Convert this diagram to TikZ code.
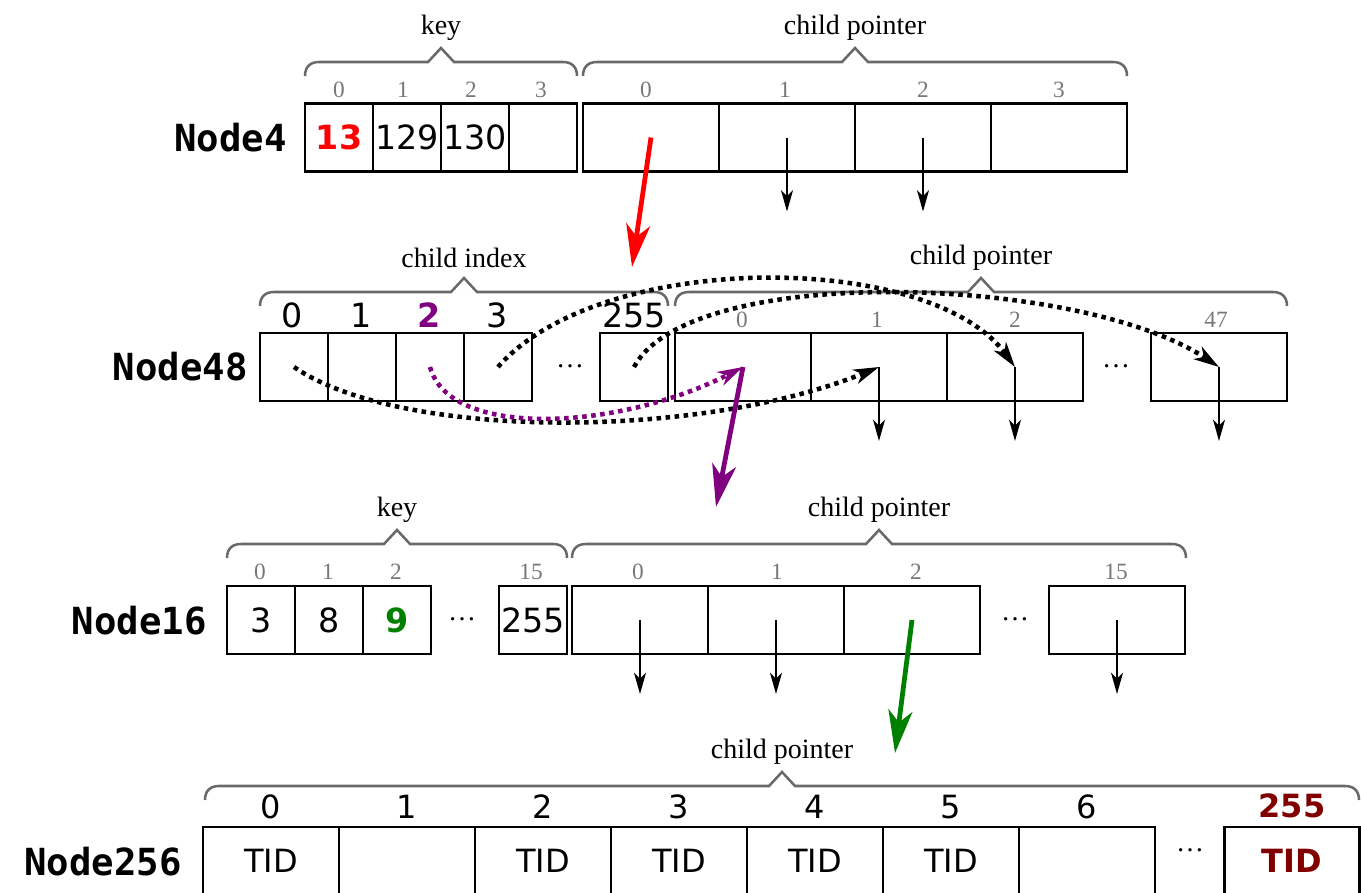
\documentclass[tikz,border=0pt]{standalone}
\usepackage{fontspec}
\usetikzlibrary{arrows.meta}
\newfontfamily\dvsans{DejaVu Sans}
\newfontfamily\dvmono{DejaVu Sans Mono}
\newfontfamily\libserif{Liberation Serif}
\newcommand\cellfont{\dvsans\fontsize{25}{30}\selectfont}
\newcommand\tidfont{\dvsans\fontsize{24}{28}\selectfont}
\newcommand\namefont{\dvmono\bfseries\fontsize{28}{32}\selectfont}
\newcommand\idxfont{\libserif\fontsize{17.5}{20}\selectfont}
\newcommand\labelfont{\libserif\fontsize{21}{24}\selectfont}
\definecolor{bracegray}{RGB}{105,105,105}
\definecolor{idxgray}{RGB}{120,120,120}
\definecolor{hitred}{RGB}{255,0,0}
\definecolor{hitpurple}{RGB}{128,0,128}
\definecolor{hitgreen}{RGB}{0,128,0}
\definecolor{hitdark}{RGB}{128,0,0}
\tikzset{
  cell/.style={draw, line width=1.9pt, minimum height=51pt, inner sep=0pt, font=\cellfont},
  kcell/.style={cell, minimum width=51pt},
  pcell/.style={cell, minimum width=102pt},
  idx/.style={font=\idxfont, text=idxgray, inner sep=0pt},
  bigidx/.style={font=\cellfont, inner sep=0pt},
  nodename/.style={font=\namefont, anchor=east, inner sep=0pt},
  gap/.style={font=\labelfont, inner sep=0pt},
  ptr/.style={line width=1.5pt, -{Stealth[length=16pt,width=9pt,inset=4.5pt]}},
  jump/.style={line width=3.6pt, -{Stealth[length=32pt,width=18pt,inset=9pt]}},
  link/.style={line width=3.4pt, dash pattern=on 3.4pt off 3.4pt, -{Stealth[length=19pt,width=11pt,inset=5.5pt]}},
  bracepath/.style={draw=bracegray, line width=1.9pt},
  bracelabel/.style={font=\labelfont, inner sep=0pt},
}
% field brace: node name, left x, right x, y of the flat part, label
\newcommand\fieldbrace[5]{%
  \draw[bracepath] (#2,#4+14) .. controls (#2,#4+5) and (#2+5,#4) .. (#2+14,#4)
    -- ({(#2+#3)/2-13},#4) -- ({(#2+#3)/2},#4-14) -- ({(#2+#3)/2+13},#4)
    -- (#3-14,#4) .. controls (#3-5,#4) and (#3,#4+5) .. (#3,#4+14);
  \node[bracelabel] (#1) at ({(#2+#3)/2},#4-34) {#5};
}
\begin{document}
\begin{tikzpicture}[x=0.75pt, y=-0.75pt]
\useasboundingbox (0,0) rectangle (1361,893);

% ---------------- Node4 ----------------
\node[nodename] (n4name) at (287,138) {Node4};
\node[kcell] (n4k0) at (339,137.5) {\textcolor{hitred}{\bfseries 13}};
\node[kcell] (n4k1) at (407,137.5) {129};
\node[kcell] (n4k2) at (475,137.5) {130};
\node[kcell] (n4k3) at (543,137.5) {};
\node[pcell] (n4c0) at (651,137.5) {};
\node[pcell] (n4c1) at (787,137.5) {};
\node[pcell] (n4c2) at (923,137.5) {};
\node[pcell] (n4c3) at (1059,137.5) {};
\foreach \i/\x in {0/339,1/403,2/471,3/541} \node[idx] (n4ki\i) at (\x,90) {\i};
\foreach \i/\x in {0/646,1/785,2/923,3/1059} \node[idx] (n4ci\i) at (\x,90) {\i};
\fieldbrace{n4key}{305}{577}{62}{key}
\fieldbrace{n4ptr}{583}{1127}{62}{child pointer}
\path (n4c1.center) ++(0,74) coordinate (n4c1t);
\path (n4c2.center) ++(0,74) coordinate (n4c2t);
\draw[ptr] (n4c1.center) -- (n4c1t);
\draw[ptr] (n4c2.center) -- (n4c2t);

% ---------------- Node48 ----------------
\node[nodename] (n48name) at (248,367) {Node48};
\node[kcell] (n48i0) at (294,367) {};
\node[kcell] (n48i1) at (362,367) {};
\node[kcell] (n48i2) at (430,367) {};
\node[kcell] (n48i3) at (498,367) {};
\node[gap] (n48g1) at (570,366) {…};
\node[kcell] (n48i255) at (634,367) {};
\node[pcell] (n48c0) at (743,367) {};
\node[pcell] (n48c1) at (879,367) {};
\node[pcell] (n48c2) at (1015,367) {};
\node[gap] (n48g2) at (1116,366) {…};
\node[pcell] (n48c47) at (1219,367) {};
\node[bigidx] (n48l0) at (292,315) {0};
\node[bigidx] (n48l1) at (361,315) {1};
\node[bigidx] (n48l2) at (429,315) {\textcolor{hitpurple}{\bfseries 2}};
\node[bigidx] (n48l3) at (497,315) {3};
\node[bigidx] (n48l255) at (634,315) {255};
\foreach \n/\x in {0/742,1/877,2/1015,47/1216} \node[idx] (n48ci\n) at (\x,320) {\n};
\fieldbrace{n48idx}{260}{668}{292}{child index}
\fieldbrace{n48ptr}{675}{1287}{292}{child pointer}
\foreach \c in {n48c1,n48c2,n48c47} {
  \path (\c.center) ++(0,74) coordinate (\c t);
  \draw[ptr] (\c.center) -- (\c t);
}
% index slots pointing into the pointer array
\draw[link] (n48i0.center) .. controls (400,440) and (700,440) .. (n48c1.center);
\draw[link] (n48i3.center) .. controls (600,250) and (930,250) .. (n48c2.center);
\draw[link] (n48i255.center) .. controls (690,262) and (1080,275) .. (n48c47.center);
\draw[link, hitpurple] (n48i2.center) .. controls (450,440) and (620,430) .. (n48c0.center);

% ---------------- Node16 ----------------
\node[nodename] (n16name) at (207,621) {Node16};
\node[kcell] (n16k0) at (261,620) {3};
\node[kcell] (n16k1) at (329,620) {8};
\node[kcell] (n16k2) at (397,620) {\textcolor{hitgreen}{\bfseries 9}};
\node[gap] (n16g1) at (462,619) {…};
\node[kcell] (n16k15) at (533,620) {255};
\node[pcell] (n16c0) at (640,620) {};
\node[pcell] (n16c1) at (776,620) {};
\node[pcell] (n16c2) at (912,620) {};
\node[gap] (n16g2) at (1015,619) {…};
\node[pcell] (n16c15) at (1117,620) {};
\foreach \n/\x in {0/260,1/328,2/396,15/531} \node[idx] (n16ki\n) at (\x,572) {\n};
\foreach \n/\x in {0/638,1/777,2/916,15/1116} \node[idx] (n16ci\n) at (\x,572) {\n};
\fieldbrace{n16key}{227}{567}{544}{key}
\fieldbrace{n16ptr}{572}{1186}{544}{child pointer}
\foreach \c in {n16c0,n16c1,n16c15} {
  \path (\c.center) ++(0,74) coordinate (\c t);
  \draw[ptr] (\c.center) -- (\c t);
}

% ---------------- Node256 ----------------
\node[nodename] (n256name) at (182,862) {Node256};
\foreach \i/\x/\t in {0/271/TID,1/407/,2/543/TID,3/679/TID,4/815/TID,5/951/TID,6/1087/} {
  \node[pcell, font=\tidfont] (n256c\i) at (\x,861) {\t};
  \node[bigidx, font=\tidfont] (n256l\i) at (\x,807) {\i};
}
\node[gap] (n256g) at (1190,850) {…};
\node[cell, minimum width=101.5pt, font=\tidfont] (n256c255) at (1292,861) {\textcolor{hitdark}{\bfseries TID}};
\node[bigidx, font=\tidfont] (n256l255) at (1292,806) {\textcolor{hitdark}{\bfseries 255}};
\fieldbrace{n256ptr}{205}{1359}{786}{child pointer}

% ---------------- lookup path ----------------
\coordinate (redend) at (632,267);
\coordinate (purpleend) at (716,507);
\coordinate (greenend) at (895,753);
\draw[jump, hitred] (n4c0.center) -- (redend);
\draw[jump, hitpurple] (n48c0.center) -- (purpleend);
\draw[jump, hitgreen] (n16c2.center) -- (greenend);
\end{tikzpicture}
\end{document}
